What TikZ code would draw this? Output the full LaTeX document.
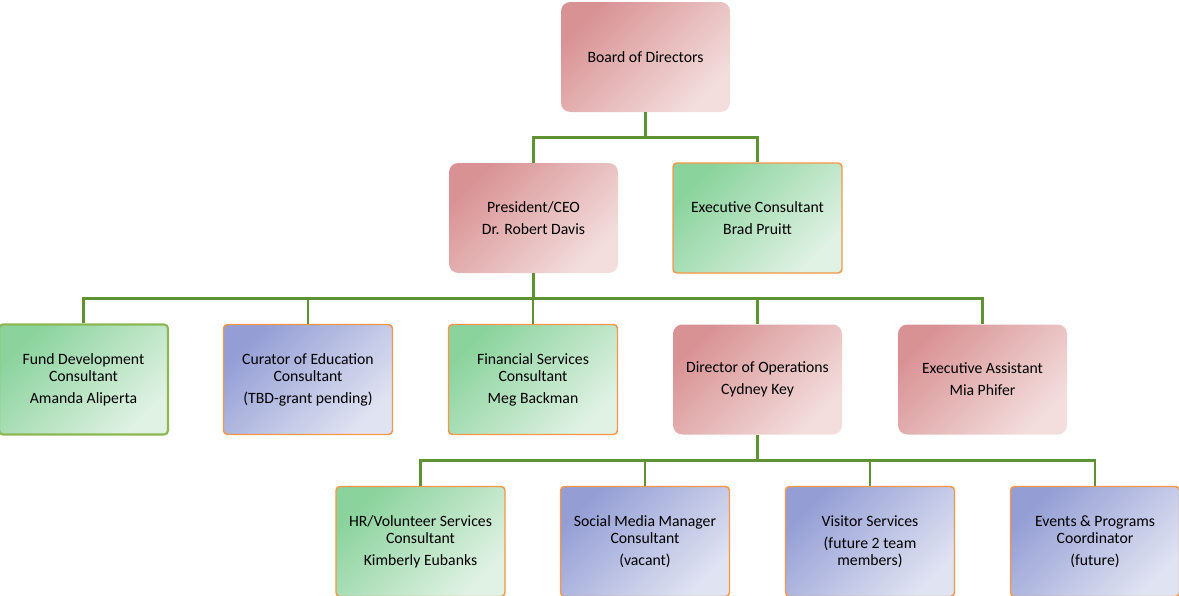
\documentclass[tikz,border=0pt]{standalone}
\usepackage{fontspec}
\setmainfont{Carlito}
\definecolor{linkgreen}{RGB}{94,146,50}
\definecolor{edgeorange}{RGB}{247,150,70}
\definecolor{edgegreen}{RGB}{140,184,82}
\definecolor{pinkA}{RGB}{217,146,148}
\definecolor{pinkB}{RGB}{243,222,221}
\definecolor{greenA}{RGB}{138,211,156}
\definecolor{greenB}{RGB}{224,242,228}
\definecolor{blueA}{RGB}{148,158,213}
\definecolor{blueB}{RGB}{224,227,242}
\tikzset{
  box/.style={minimum width=126.75pt, minimum height=82.5pt, inner sep=0pt,
    align=center, font=\fontsize{11.8}{12.75}\selectfont},
  pinkbox/.style={box, rounded corners=7pt, top color=pinkA, bottom color=pinkB,
    shading angle=45},
  greenbox/.style={box, rounded corners=3pt, top color=greenA, bottom color=greenB,
    shading angle=45, draw=edgeorange, line width=1.1pt},
  bluebox/.style={box, rounded corners=3pt, top color=blueA, bottom color=blueB,
    shading angle=45, draw=edgeorange, line width=1.1pt},
  link/.style={draw=linkgreen, line width=2pt},
}
\begin{document}
\begin{tikzpicture}[x=0.75pt, y=-0.75pt]
\useasboundingbox (0,0) rectangle (1179,596);

% top levels
\node[pinkbox] (board) at (645.5,57) {Board of Directors};
\node[pinkbox] (pres) at (533.5,218) {President/CEO\\[3.75pt]Dr. Robert Davis};
\node[greenbox] (excons) at (757.5,218) {Executive Consultant\\[3.75pt]Brad Pruitt};

% third level
\node[greenbox, draw=edgegreen, line width=1.6pt] (fund) at (83.5,379.5)
  {Fund Development\\Consultant\\[3.75pt]Amanda Aliperta};
\node[bluebox] (curator) at (308,379.5)
  {Curator of Education\\Consultant\\[3.75pt](TBD-grant pending)};
\node[greenbox] (finance) at (533,379.5)
  {Financial Services\\Consultant\\[3.75pt]Meg Backman};
\node[pinkbox] (ops) at (757.5,379.5) {Director of Operations\\[3.75pt]Cydney Key};
\node[pinkbox] (assist) at (982.5,379.5) {Executive Assistant\\[3.75pt]Mia Phifer};

% fourth level
\node[greenbox] (hr) at (420.5,541.5)
  {HR/Volunteer Services\\Consultant\\[3.75pt]Kimberly Eubanks};
\node[bluebox] (social) at (645,541.5)
  {Social Media Manager\\Consultant\\[3.75pt](vacant)};
\node[bluebox] (visitor) at (870,541.5)
  {Visitor Services\\[3.75pt](future 2 team\\members)};
\node[bluebox] (events) at (1095,541.5)
  {Events \& Programs\\Coordinator\\[3.75pt](future)};

% connectors
\foreach \c in {pres,excons}
  \draw[link] (board.south) -- ++(0,25) -| (\c.north);
\foreach \c in {fund,curator,finance,ops,assist}
  \draw[link] (pres.south) -- ++(0,25) -| (\c.north);
\foreach \c in {hr,social,visitor,events}
  \draw[link] (ops.south) -- ++(0,26) -| (\c.north);
\end{tikzpicture}
\end{document}
